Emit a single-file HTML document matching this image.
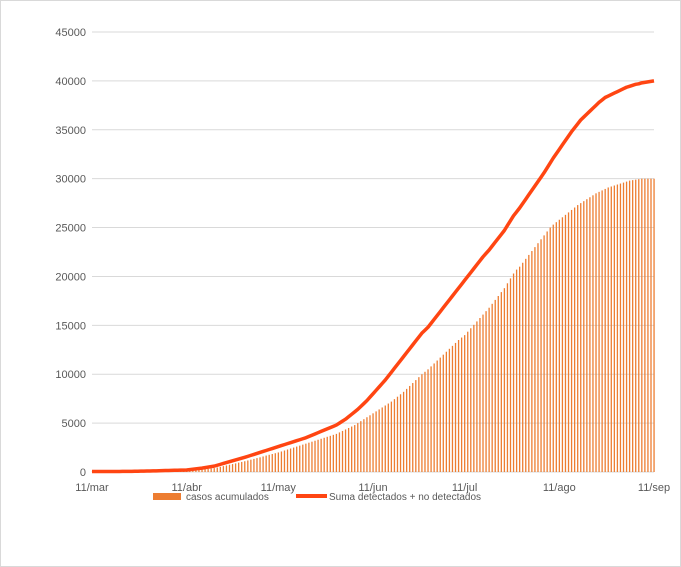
<!DOCTYPE html>
<html><head><meta charset="utf-8"><style>
html,body{margin:0;padding:0;background:#fff}
svg{display:block;font-family:"Liberation Sans",sans-serif}
</style></head><body>
<svg id="c" width="681" height="567">
<rect x="0.5" y="0.5" width="680" height="566" fill="#fff" stroke="#d9d9d9"/>
<g id="grid"></g><g id="bars"></g><g id="line"></g><g id="axes"></g>
<g>
<rect x="153" y="493" width="28" height="7" fill="#ED7D31"/>
<text x="186" y="500" font-size="10" fill="#595959">casos acumulados</text>
<rect x="296" y="494" width="31" height="4" fill="#FF4512"/>
<text x="329" y="500" font-size="10" fill="#595959">Suma detectados + no detectados</text>
</g>
</svg>
<script>
const yTicks=[0,5000,10000,15000,20000,25000,30000,35000,40000,45000];
const xLabels=["11/mar","11/abr","11/may","11/jun","11/jul","11/ago","11/sep"];
const xLabelDays=[0,31,61,92,122,153,184];
const casos=[20,20,20,20,20,20,20,20,20,20,30,30,30,30,30,40,40,40,50,50,
50,60,60,60,70,70,80,80,90,90,100,
100,130,160,190,220,250,290,330,360,
400,460,530,600,670,740,810,880,960,1030,
1100,1180,1260,1340,1420,1500,1590,1680,1760,1840,1920,
2000,2100,2200,2300,2400,2500,2600,2700,2800,
2900,3000,3100,3200,3300,3400,3500,3600,3700,3800,
3900,4050,4200,4350,4500,4650,4800,5000,5200,5400,5600,5800,
6000,6200,6400,6600,6800,7000,7200,7450,
7700,7950,8200,8500,8800,9100,9400,9700,10000,10250,
10500,10800,11100,11400,11700,12000,12300,12600,12900,13200,13500,13750,
14000,14350,14700,15050,15400,15750,16100,16450,
16800,17200,17600,18000,18400,18800,19300,19800,20300,20700,
21000,21400,21800,22200,22600,23000,23400,23800,24200,24600,25000,25300,25550,
25800,26050,26300,26550,26800,27050,27300,
27500,27700,27900,28100,28300,28500,28650,28800,28950,29100,
29200,29300,29400,29500,29600,29700,29800,29850,29900,29950,
30000,30000,30000,30000,30000];
const suma=[50,50,50,50,50,50,50,50,50,50,60,60,70,70,80,80,90,90,100,100,
110,120,130,140,150,160,170,180,185,190,195,
200,240,280,320,360,400,450,500,550,
600,690,780,870,960,1050,1140,1230,1320,1410,
1500,1600,1700,1800,1900,2000,2100,2200,2300,2400,2500,
2600,2700,2800,2900,3000,3100,3200,3300,3400,
3500,3630,3760,3890,4020,4150,4280,4410,4540,4670,
4800,5000,5200,5400,5650,5900,6150,6400,6700,7000,7300,7650,
8000,8350,8700,9050,9400,9800,10200,10600,
11000,11400,11800,12200,12600,13000,13400,13800,14200,14500,
14800,15200,15600,16000,16400,16800,17200,17600,18000,18400,18800,19200,
19600,20000,20400,20800,21200,21600,22000,22350,
22700,23100,23500,23900,24300,24700,25200,25700,26200,26600,
27000,27450,27900,28350,28800,29250,29700,30150,30600,31100,31600,32100,32550,
33000,33450,33900,34350,34800,35200,35600,
36000,36300,36600,36900,37200,37500,37800,38050,38300,38450,
38600,38750,38900,39050,39200,39350,39450,39550,39650,39700,
39800,39850,39900,39950,40000];
const NS="http://www.w3.org/2000/svg";
const X0=92,X1=654,Y0=472,Y1=32,DAYS=184,YMAX=45000;
const xs=d=>X0+d*(X1-X0)/DAYS;
const ys=v=>Y0-v*(Y0-Y1)/YMAX;
function mk(t,a,p){const e=document.createElementNS(NS,t);for(const k in a)e.setAttribute(k,a[k]);p.appendChild(e);return e;}
const grid=document.getElementById('grid'),axes=document.getElementById('axes');
yTicks.forEach(v=>{
 const l=mk('line',{x1:X0,x2:X1,y1:ys(v),y2:ys(v),stroke:'#d9d9d9','stroke-width':1},grid);
 
 
 const t=mk('text',{x:86,y:ys(v)+4,'text-anchor':'end','font-size':11,fill:'#595959'},axes);
 t.textContent=v;
 
 
});
xLabels.forEach((s,i)=>{
 const t=mk('text',{x:xs(xLabelDays[i]),y:491,'text-anchor':'middle','font-size':11,fill:'#595959'},axes);
 t.textContent=s;
 
 
});
const bars=document.getElementById('bars');
casos.forEach((v,d)=>{
 const r=mk('rect',{x:xs(d)-0.6,y:ys(v),width:1.3,height:Y0-ys(v),fill:'#ED7D31'},bars);
 
 
});
const pts=suma.map((v,d)=>xs(d).toFixed(2)+','+ys(v).toFixed(2)).join(' ');
const pl=mk('polyline',{points:pts,fill:'none',stroke:'#FF4512','stroke-width':3.5,'stroke-linejoin':'round'},document.getElementById('line'));


</script>
</body></html>
